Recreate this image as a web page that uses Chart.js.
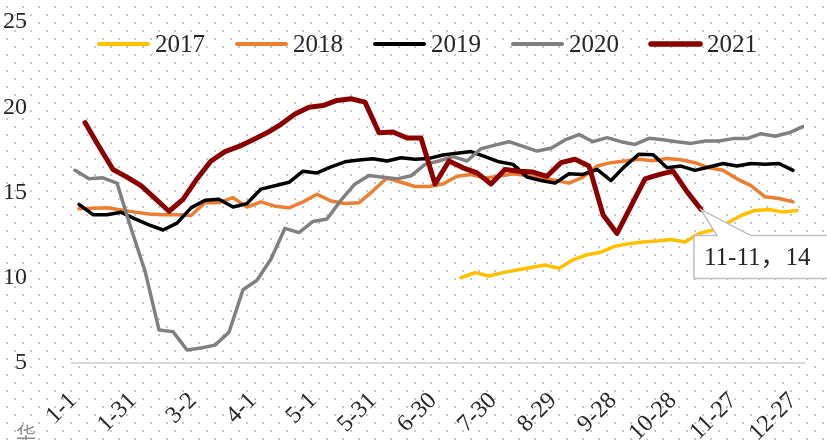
<!DOCTYPE html>
<html>
<head>
<meta charset="utf-8">
<script src="https://cdn.jsdelivr.net/npm/chart.js@4.4.1/dist/chart.umd.min.js"></script>
<style>
  html, body { margin: 0; padding: 0; background: #fff; }
  #wrap { width: 827px; height: 440px; position: relative; }
</style>
</head>
<body>
<div id="wrap"><canvas id="chart"></canvas></div>
<script>
// weekly readings, x = day of year (0 = 1-1)
const seriesNames = ['2017', '2018', '2019', '2020', '2021'];
const startDays = [194, 3, 3, 1, 6];

const values2017 = [10.0, 10.3, 10.1, 10.3, 10.45, 10.6, 10.75, 10.55, 11.05, 11.35, 11.5, 11.85, 12.0,
  12.1, 12.15, 12.24, 12.1, 12.6, 12.8, 13.2, 13.65, 13.95, 14.0, 13.85, 13.95];
const values2018 = [14.05, 14.08, 14.1, 13.97, 13.85, 13.74, 13.7, 13.7, 13.65, 14.4, 14.4, 14.7, 14.15,
  14.45, 14.2, 14.1, 14.45, 14.9, 14.5, 14.35, 14.4, 15.1, 15.85, 15.6, 15.35, 15.35, 15.5, 15.95, 16.05,
  15.85, 15.95, 16.1, 16.0, 15.85, 15.72, 15.55, 15.9, 16.55, 16.75, 16.85, 16.95, 16.86, 17.0, 16.92,
  16.75, 16.45, 16.3, 15.8, 15.4, 14.75, 14.65, 14.45];
const values2019 = [14.3, 13.7, 13.7, 13.84, 13.45, 13.1, 12.8, 13.2, 14.1, 14.55, 14.6, 14.15, 14.35,
  15.2, 15.4, 15.6, 16.25, 16.15, 16.5, 16.8, 16.9, 16.98, 16.85, 17.04, 16.95, 17.0, 17.2, 17.3, 17.4,
  17.1, 16.8, 16.65, 15.9, 15.7, 15.55, 16.1, 16.06, 16.35, 15.7, 16.55, 17.25, 17.22, 16.45, 16.55,
  16.3, 16.5, 16.7, 16.55, 16.7, 16.65, 16.7, 16.3];
const values2020 = [16.3, 15.8, 15.86, 15.55, 12.9, 10.4, 6.94, 6.84, 5.76, 5.88, 6.05, 6.8, 9.3, 9.85,
  11.1, 12.9, 12.65, 13.3, 13.45, 14.55, 15.5, 16.0, 15.9, 15.8, 15.98, 16.65, 16.85, 17.1, 16.85, 17.57,
  17.78, 17.98, 17.7, 17.43, 17.6, 18.08, 18.4, 17.98, 18.22, 17.98, 17.82, 18.18, 18.1, 17.98, 17.88,
  18.02, 18.02, 18.16, 18.16, 18.45, 18.3, 18.5, 18.86];
const values2021 = [19.1, 17.7, 16.35, 15.9, 15.4, 14.65, 13.9, 14.6, 15.8, 16.85, 17.4, 17.7, 18.1, 18.5,
  19.0, 19.6, 20.0, 20.1, 20.4, 20.5, 20.3, 18.5, 18.55, 18.2, 18.2, 15.5, 16.85, 16.45, 16.15, 15.5,
  16.35, 16.25, 16.2, 15.95, 16.75, 16.95, 16.55, 13.7, 12.6, 14.2, 15.8, 16.05, 16.25, 15.05, 14.0];
const seriesValues = [values2017, values2018, values2019, values2020, values2021];

const tickDays = [0, 30, 60, 90, 120, 150, 180, 210, 240, 270, 300, 330, 360];
const tickLabels = ['1-1', '1-31', '3-2', '4-1', '5-1', '5-31', '6-30', '7-30', '8-29', '9-28', '10-28', '11-27', '12-27'];
const yTicks = [5, 10, 15, 20, 25];

const colors = ['#FFC000', '#ED7D31', '#000000', '#808080', '#8B0000'];
const widths = [3.5, 3.5, 3.5, 3.5, 5];
const serif = '"Liberation Serif", "Times New Roman", serif';
const textColor = '#262626';

function dayLabel(d) {
  const dt = new Date(2021, 0, 1 + d);
  return (dt.getMonth() + 1) + '-' + dt.getDate();
}

// dotted pattern over the whole chart area (like excel pattern fill)
const dotBackground = {
  id: 'dotBackground',
  beforeDraw(chart) {
    const tile = document.createElement('canvas');
    tile.width = 16; tile.height = 16;
    const t = tile.getContext('2d');
    t.fillStyle = '#fff';
    t.fillRect(0, 0, 16, 16);
    t.fillStyle = '#c8c8c8';
    t.fillRect(6, 6, 2, 2);
    t.fillRect(14, 14, 2, 2);
    const ctx = chart.ctx;
    ctx.save();
    ctx.fillStyle = ctx.createPattern(tile, 'repeat');
    ctx.fillRect(0, 0, chart.width, chart.height);
    ctx.restore();
  }
};

// legend sits inside the plot
const lineLegend = {
  id: 'lineLegend',
  afterDatasetsDraw(chart) {
    const ctx = chart.ctx;
    ctx.save();
    ctx.font = '25px ' + serif;
    ctx.textBaseline = 'middle';
    let x = 97;
    const y = 44;
    chart.data.datasets.forEach(ds => {
      ctx.strokeStyle = ds.borderColor;
      ctx.lineWidth = ds.borderWidth + 0.5;
      ctx.lineCap = 'round';
      ctx.beginPath();
      ctx.moveTo(x + 2, y);
      ctx.lineTo(x + 51, y);
      ctx.stroke();
      ctx.fillStyle = textColor;
      ctx.fillText(ds.label, x + 58, y + 1);
      x += 58 + ctx.measureText(ds.label).width + 30;
    });
    ctx.restore();
  }
};

// data callout on last 2021 point
const callout = {
  id: 'callout',
  afterDatasetsDraw(chart) {
    const i = seriesNames.length - 1;
    const meta = chart.getDatasetMeta(i);
    const pt = meta.data[meta.data.length - 1];
    const vals = seriesValues[i];
    const day = startDays[i] + 7 * (vals.length - 1);
    const text = dayLabel(day) + '，' + Math.round(vals[vals.length - 1]);
    const ctx = chart.ctx;
    const bx = pt.x - 7, by = pt.y + 26, bh = 43, bw = 220;
    ctx.save();
    ctx.beginPath();
    ctx.moveTo(bx, by);
    ctx.lineTo(pt.x + 16, by);
    ctx.lineTo(pt.x, pt.y);
    ctx.lineTo(pt.x + 50, by);
    ctx.lineTo(bx + bw, by);
    ctx.lineTo(bx + bw, by + bh);
    ctx.lineTo(bx, by + bh);
    ctx.closePath();
    ctx.fillStyle = '#fff';
    ctx.fill();
    ctx.strokeStyle = '#bfbfbf';
    ctx.lineWidth = 1.5;
    ctx.stroke();
    ctx.font = '25px ' + serif + ', "Noto Sans CJK SC"';
    ctx.fillStyle = textColor;
    ctx.textBaseline = 'middle';
    ctx.fillText(text, bx + 10, by + bh / 2 + 1);
    ctx.restore();
  },
  afterDraw(chart) {
    const ctx = chart.ctx;
    ctx.save();
    ctx.font = '20px "Noto Sans CJK SC"';
    ctx.fillStyle = '#8c8c8c';
    ctx.textBaseline = 'top';
    ctx.fillText('华', 16, 424);
    ctx.restore();
  }
};

const datasets = seriesNames.map((name, i) => ({
  label: name,
  data: seriesValues[i].map((v, k) => ({ x: startDays[i] + 7 * k, y: v })),
  borderColor: colors[i],
  backgroundColor: colors[i],
  borderWidth: widths[i],
  pointRadius: 0,
  tension: 0,
  borderJoinStyle: 'round',
  borderCapStyle: 'round',
  order: seriesNames.length - i
}));

new Chart(document.getElementById('chart'), {
  type: 'line',
  data: { datasets },
  plugins: [dotBackground, lineLegend, callout],
  options: {
    responsive: true,
    maintainAspectRatio: false,
    animation: false,
    layout: { padding: { top: 22, right: 23, left: 0, bottom: 0 } },
    plugins: { legend: { display: false }, tooltip: { enabled: false } },
    scales: {
      x: {
        type: 'linear',
        min: -0.5,
        max: 365.5,
        afterBuildTicks: s => { s.ticks = tickDays.map(v => ({ value: v })); },
        afterFit: s => { s.height = 77; s.paddingLeft = 0; s.paddingRight = 0; },
        ticks: {
          autoSkip: false,
          minRotation: 45,
          maxRotation: 45,
          padding: 24,
          color: textColor,
          font: { family: serif, size: 24 },
          callback: (v, idx) => tickLabels[idx]
        },
        grid: { display: true, drawOnChartArea: false, drawTicks: false },
        border: { display: true, color: '#d9d9d9', width: 2 }
      },
      y: {
        min: 5,
        max: 25,
        afterBuildTicks: s => { s.ticks = yTicks.map(v => ({ value: v })); },
        afterFit: s => { s.width = 72; s.paddingTop = 0; s.paddingBottom = 0; },
        ticks: { padding: 37, color: textColor, font: { family: serif, size: 24 } },
        grid: { display: false },
        border: { display: false }
      }
    }
  }
});
</script>
</body>
</html>
